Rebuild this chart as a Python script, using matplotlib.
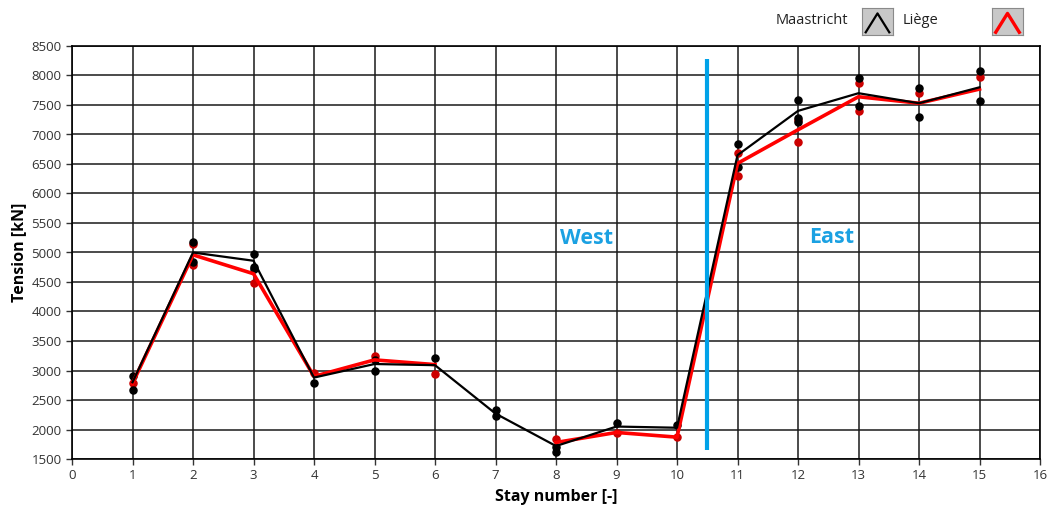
import matplotlib
matplotlib.use("Agg")
import matplotlib.pyplot as plt
import numpy as np

plt.rcParams['font.family'] = ['Open Sans', 'DejaVu Sans']

# Stay numbers
stays = [1, 2, 3, 4, 5, 6, 7, 8, 9, 10, 11, 12, 13, 14, 15]

# Mean tension per stay [kN]
maastricht_mean = [2800, 5000, 4860, 2880, 3110, 3090, 2270, 1720, 2050, 2030, 6650, 7400, 7700, 7530, 7800]
liege_mean = [2780, 4960, 4640, 2900, 3180, 3100, np.nan, 1780, 1950, 1870, 6510, 7080, 7640, 7530, 7770]

# Individual measurements (stay, tension)
maastricht_pts_x = [1, 1, 2, 2, 3, 3, 3, 4, 5, 5, 6, 7, 7, 8, 8, 9, 10,
                    11, 11, 12, 12, 12, 13, 13, 14, 14, 15, 15]
maastricht_pts_y = [2910, 2670, 5180, 4840, 4975, 4760, 4715, 2790, 3180, 3000, 3220, 2330, 2230, 1710, 1625, 2115, 2075,
                    6840, 6455, 7585, 7275, 7220, 7950, 7480, 7780, 7300, 8080, 7570]
liege_pts_x = [1, 2, 2, 3, 4, 5, 6, 8, 9, 10, 11, 11, 12, 12, 13, 13, 14, 15]
liege_pts_y = [2780, 5150, 4780, 4480, 2950, 3250, 2940, 1840, 1935, 1870, 6680, 6300, 7245, 6870, 7870, 7400, 7700, 7970]

# Separation between the two spans
divider_x = 10.5
divider_y = (1650, 8280)

fig = plt.figure(figsize=(10.51, 5.11), dpi=100)
ax = fig.add_axes([72 / 1051, 1 - 459 / 511, (1040 - 72) / 1051, (459 - 46) / 511])

ax.scatter(maastricht_pts_x, maastricht_pts_y, s=26, color='black', zorder=4)
ax.scatter(liege_pts_x, liege_pts_y, s=26, color='#cc0000', zorder=3)
ax.plot(stays, maastricht_mean, color='black', lw=1.6, zorder=5)
ax.plot(stays, liege_mean, color='#ff0000', lw=2.6, zorder=4.5)

ax.plot([divider_x, divider_x], divider_y, color='#00a2e8', lw=3, zorder=6, solid_capstyle='butt')

ax.text(8.5, 5230, 'West', color='#1ba1e2', fontsize=15.5, fontweight='bold', ha='center', va='center', zorder=7)
ax.text(12.55, 5260, 'East', color='#1ba1e2', fontsize=15.5, fontweight='bold', ha='center', va='center', zorder=7)

ax.set_xlim(0, 16)
ax.set_ylim(1500, 8500)
ax.set_xticks(range(0, 17))
ax.set_yticks(range(1500, 8501, 500))
ax.grid(True, color='#1a1a1a', lw=1.1)
ax.set_axisbelow(True)
for sp in ax.spines.values():
    sp.set_color('black')
    sp.set_linewidth(1.2)
ax.tick_params(axis='both', direction='out', length=4, width=1, color='#333333',
               labelsize=9.5, labelcolor='#333333')
ax.set_xlabel('Stay number [-]', fontsize=11.5, fontweight='bold', labelpad=5)
ax.set_ylabel('Tension [kN]', fontsize=11.5, fontweight='bold', labelpad=3)

# Legend row above the plot
fig.text(848 / 1051, 1 - 21 / 511, 'Maastricht', fontsize=10.5, color='#222222', ha='right', va='center')
fig.text(903 / 1051, 1 - 21 / 511, 'Liège', fontsize=10.5, color='#222222', ha='left', va='center')

def swatch(x0, color, lw):
    sax = fig.add_axes([x0 / 1051, 1 - 35 / 511, 31 / 1051, 27 / 511])
    sax.set_facecolor('#c8c8c8')
    sax.set_xlim(0, 1)
    sax.set_ylim(0, 1)
    sax.plot([0.12, 0.5, 0.88], [0.1, 0.8, 0.1], color=color, lw=lw)
    sax.set_xticks([])
    sax.set_yticks([])
    for sp in sax.spines.values():
        sp.set_color('#8a8a8a')

swatch(862, 'black', 1.6)
swatch(992, '#ff0000', 2.4)

fig.savefig('out.png', dpi=100, facecolor='white')
